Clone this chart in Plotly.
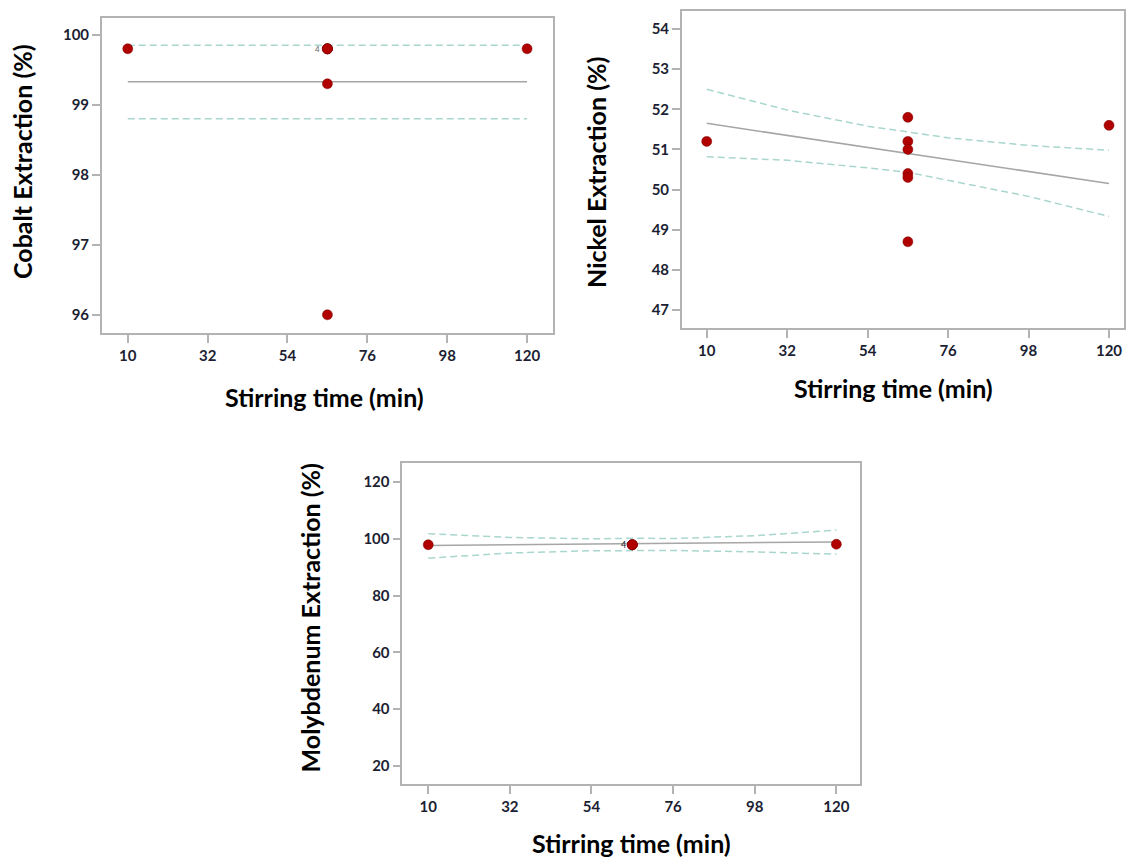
import plotly.graph_objects as go

# ---------------- data ----------------
# Cobalt
time_co = [10, 65, 65, 65, 65, 65, 65, 120]
cobalt = [99.8, 99.8, 99.8, 99.8, 99.8, 99.3, 96.0, 99.8]
fit_x_co = [10, 120]
fit_co = [99.33, 99.33]
ci_x_co = [10, 120]
ci_up_co = [99.85, 99.85]
ci_lo_co = [98.80, 98.80]

# Nickel
time_ni = [10, 65, 65, 65, 65, 65, 65, 120]
nickel = [51.2, 51.8, 51.2, 51.0, 50.4, 50.3, 48.7, 51.6]
fit_x_ni = [10, 120]
fit_ni = [51.65, 50.15]
ci_x_ni = [10, 32, 54, 65, 76, 98, 120]
ci_up_ni = [52.50, 51.98, 51.58, 51.43, 51.29, 51.10, 50.98]
ci_lo_ni = [50.82, 50.73, 50.54, 50.43, 50.23, 49.83, 49.33]

# Molybdenum
time_mo = [10, 65, 65, 65, 65, 120]
molybdenum = [97.9, 97.9, 97.9, 97.9, 97.9, 98.1]
fit_x_mo = [10, 120]
fit_mo = [97.65, 98.9]
ci_x_mo = [10, 32, 54, 65, 76, 98, 120]
ci_up_mo = [101.8, 100.5, 100.0, 100.2, 100.1, 101.1, 103.1]
ci_lo_mo = [93.2, 95.0, 95.8, 95.9, 95.9, 95.4, 94.6]

x_ticks = [10, 32, 54, 76, 98, 120]
y_ticks_co = [96, 97, 98, 99, 100]
y_ticks_ni = [47, 48, 49, 50, 51, 52, 53, 54]
y_ticks_mo = [20, 40, 60, 80, 100, 120]

x_title = "Stirring time (min)"
y_titles = ["Cobalt Extraction (%)", "Nickel Extraction (%)", "Molybdenum Extraction (%)"]

# ---------------- styling ----------------
W, H = 1126, 858
PT_COLOR = "#b00000"
FIT_COLOR = "#a6a6a6"
CI_COLOR = "#a9d6cf"
FRAME = "#b3b3b3"
TICKFONT = dict(family="Lato", size=15, color="#1c1f33", weight="bold")
TITLEFONT = dict(family="Lato", size=25, color="#000000")

fig = go.Figure()

panels = [
    dict(ax="", x=time_co, y=cobalt, fx=fit_x_co, fy=fit_co, cx=ci_x_co, cu=ci_up_co, cl=ci_lo_co,
         xdom=(102, 554), ydom=(18, 333), xr=(2.85, 127.15), yr=(95.74, 100.24), yt=y_ticks_co),
    dict(ax="2", x=time_ni, y=nickel, fx=fit_x_ni, fy=fit_ni, cx=ci_x_ni, cu=ci_up_ni, cl=ci_lo_ni,
         xdom=(683, 1126), ydom=(11, 328), xr=(3.18, 124.1), yr=(46.55, 54.45), yt=y_ticks_ni),
    dict(ax="3", x=time_mo, y=molybdenum, fx=fit_x_mo, fy=fit_mo, cx=ci_x_mo, cu=ci_up_mo, cl=ci_lo_mo,
         xdom=(403, 862), ydom=(463, 784), xr=(3.0, 126.5), yr=(13.66, 126.7), yt=y_ticks_mo),
]

layout = {}
for p in panels:
    xa, ya = "x" + p["ax"], "y" + p["ax"]
    for yy in (p["cu"], p["cl"]):
        fig.add_trace(go.Scatter(x=p["cx"], y=yy, mode="lines", xaxis=xa, yaxis=ya,
                                 line=dict(color=CI_COLOR, width=1.5, dash="7px,4px"),
                                 showlegend=False, hoverinfo="skip"))
    fig.add_trace(go.Scatter(x=p["fx"], y=p["fy"], mode="lines", xaxis=xa, yaxis=ya,
                             line=dict(color=FIT_COLOR, width=1.5), showlegend=False))
    fig.add_trace(go.Scatter(x=p["x"], y=p["y"], mode="markers", xaxis=xa, yaxis=ya,
                             marker=dict(color=PT_COLOR, size=10, symbol="circle",
                                         line=dict(color="#7a0000", width=0.5)),
                             showlegend=False))
    xd = (p["xdom"][0] / W, p["xdom"][1] / W)
    yd = (1 - p["ydom"][1] / H, 1 - p["ydom"][0] / H)
    common = dict(showline=True, linecolor=FRAME, linewidth=1.5, mirror=True,
                  ticks="outside", ticklen=8, tickcolor=FRAME, tickwidth=1.5,
                  showgrid=False, zeroline=False, tickfont=TICKFONT)
    layout["xaxis" + p["ax"]] = dict(domain=xd, range=list(p["xr"]), tickvals=x_ticks,
                                     anchor=ya, **common)
    layout["yaxis" + p["ax"]] = dict(domain=yd, range=list(p["yr"]), tickvals=p["yt"],
                                     anchor=xa, **common)

fig.update_layout(**layout)

annotations = []
# x-axis titles (paper coords from pixel centres)
for (cx, cy) in [(325, 397), (895, 388), (633, 843)]:
    annotations.append(dict(x=cx / W, y=1 - cy / H, xref="paper", yref="paper",
                            text="<b>" + x_title + "</b>", showarrow=False,
                            xanchor="center", yanchor="middle", font=TITLEFONT))
# y-axis titles
for t, (cx, cy) in zip(y_titles, [(22, 161), (597, 172), (311, 618)]):
    annotations.append(dict(x=cx / W, y=1 - cy / H, xref="paper", yref="paper",
                            text="<b>" + t + "</b>", showarrow=False, textangle=-90,
                            xanchor="center", yanchor="middle", font=TITLEFONT))
# replicate-count labels
annotations.append(dict(x=62.2, y=99.8, xref="x", yref="y", text="4", showarrow=False,
                        font=dict(family="Lato", size=8, color="#666666")))
annotations.append(dict(x=62.6, y=97.9, xref="x3", yref="y3", text="4", showarrow=False,
                        font=dict(family="Lato", size=9, color="#222222")))

fig.update_layout(width=W, height=H, margin=dict(l=0, r=0, t=0, b=0),
                  paper_bgcolor="white", plot_bgcolor="white",
                  annotations=annotations, showlegend=False)

fig.write_html("out.html", config={"displayModeBar": False},
               post_script="document.body.style.margin='0';")
